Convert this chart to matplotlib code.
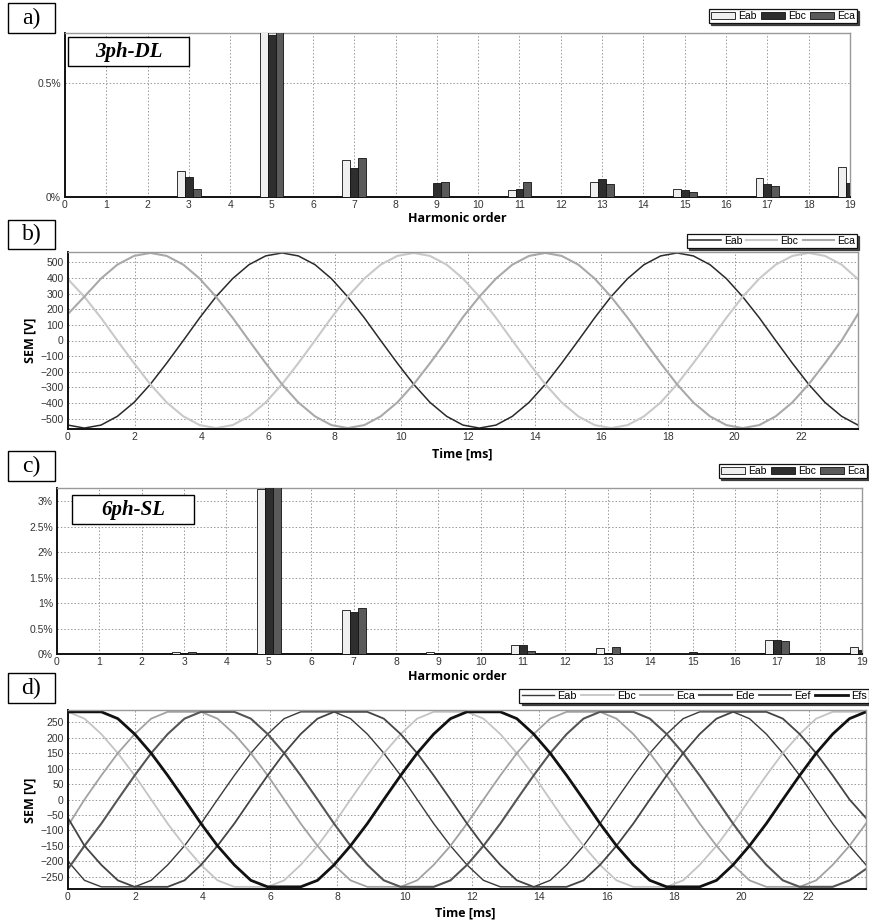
import matplotlib
matplotlib.use("Agg")
import matplotlib.pyplot as plt
from matplotlib.patches import Rectangle

plt.rcParams['font.family'] = ['Liberation Sans', 'DejaVu Sans']

W, H = 870, 923

# harmonic spectra, % of fundamental
orders = [3, 5, 7, 9, 11, 13, 15, 17, 19]
dl_eab = [0.115, 0.75, 0.163, 0.0, 0.031, 0.066, 0.037, 0.085, 0.132]
dl_ebc = [0.088, 0.712, 0.128, 0.061, 0.037, 0.079, 0.031, 0.055, 0.06]
dl_eca = [0.035, 0.76, 0.173, 0.066, 0.066, 0.056, 0.024, 0.047, 0.05]

sl_eab = [0.033, 3.25, 0.866, 0.03, 0.17, 0.11, 0.027, 0.275, 0.13]
sl_ebc = [0.013, 3.4, 0.83, 0.0, 0.17, 0.02, 0.047, 0.275, 0.08]
sl_eca = [0.046, 3.4, 0.90, 0.015, 0.05, 0.14, 0.02, 0.25, 0.05]

# back-EMF waveforms [V] vs time [ms]
time_ms = [0.00, 0.49, 0.99, 1.48, 1.98, 2.47, 2.96, 3.46, 3.95, 4.44, 4.94, 5.43,
           5.93, 6.42, 6.91, 7.41, 7.90, 8.39, 8.89, 9.38, 9.88, 10.37, 10.86, 11.36,
           11.85, 12.34, 12.84, 13.33, 13.83, 14.32, 14.81, 15.31, 15.80, 16.29, 16.79, 17.28,
           17.78, 18.27, 18.76, 19.26, 19.75, 20.24, 20.74, 21.23, 21.73, 22.22, 22.71, 23.21,
           23.70]

b_eab = [-541, -560, -541, -485, -396, -280, -145, 0, 145, 280, 396, 485,
         541, 560, 541, 485, 396, 280, 145, 0, -145, -280, -396, -485,
         -541, -560, -541, -485, -396, -280, -145, 0, 145, 280, 396, 485,
         541, 560, 541, 485, 396, 280, 145, 0, -145, -280, -396, -485,
         -541]
b_ebc = [392, 280, 145, 0, -145, -280, -396, -485, -541, -560, -541, -485,
         -396, -280, -145, 0, 145, 280, 396, 485, 541, 560, 541, 485,
         396, 280, 145, 0, -145, -280, -396, -485, -541, -560, -541, -485,
         -396, -280, -145, 0, 145, 280, 396, 485, 541, 560, 541, 485,
         392]
b_eca = [170, 280, 396, 485, 541, 560, 541, 485, 396, 280, 145, 0,
         -145, -280, -396, -485, -541, -560, -541, -485, -396, -280, -145, 0,
         150, 280, 396, 485, 541, 560, 541, 485, 396, 280, 145, 0,
         -145, -280, -396, -485, -541, -560, -541, -485, -396, -280, -145, 0,
         170]

d_eab = [-200, -262, -283, -283, -283, -262, -212, -150, -78, 0, 78, 150,
         212, 262, 284, 284, 284, 262, 212, 150, 78, 0, -78, -150,
         -212, -262, -283, -283, -283, -262, -212, -150, -78, 0, 78, 150,
         212, 262, 284, 284, 284, 262, 212, 150, 78, 0, -78, -150,
         -212]
d_ebc = [284, 262, 212, 150, 78, 0, -78, -150, -212, -262, -283, -283,
         -283, -262, -212, -150, -78, 0, 78, 150, 212, 262, 284, 284,
         284, 262, 212, 150, 78, 0, -78, -150, -212, -262, -283, -283,
         -283, -262, -212, -150, -78, 0, 78, 150, 212, 262, 284, 284,
         284]
d_eca = [-85, 0, 78, 150, 212, 262, 284, 284, 284, 262, 212, 150,
         78, 0, -78, -150, -212, -262, -283, -283, -283, -262, -212, -150,
         -78, 0, 78, 150, 212, 262, 284, 284, 284, 262, 212, 150,
         78, 0, -78, -150, -212, -262, -283, -283, -283, -262, -212, -150,
         -78]
d_ede = [-225, -150, -78, 0, 78, 150, 212, 262, 284, 284, 284, 262,
         212, 150, 78, 0, -78, -150, -212, -262, -283, -283, -283, -262,
         -212, -150, -78, 0, 78, 150, 212, 262, 284, 284, 284, 262,
         212, 150, 78, 0, -78, -150, -212, -262, -283, -283, -283, -262,
         -225]
d_eef = [-60, -150, -212, -262, -283, -283, -283, -262, -212, -150, -78, 0,
         78, 150, 212, 262, 284, 284, 284, 262, 212, 150, 78, 0,
         -78, -150, -212, -262, -283, -283, -283, -262, -212, -150, -78, 0,
         78, 150, 212, 262, 284, 284, 284, 262, 212, 150, 78, 0,
         -60]
d_efs = [284, 284, 284, 262, 212, 150, 78, 0, -78, -150, -212, -262,
         -283, -283, -283, -262, -212, -150, -78, 0, 78, 150, 212, 262,
         284, 284, 284, 262, 212, 150, 78, 0, -78, -150, -212, -262,
         -283, -283, -283, -262, -212, -150, -78, 0, 78, 150, 212, 262,
         284]

names3 = ['Eab', 'Ebc', 'Eca']
names6 = ['Eab', 'Ebc', 'Eca', 'Ede', 'Eef', 'Efs']
bar_colors = ['#efefef', '#2e2e2e', '#5a5a5a']
b_styles = [('#2a2a2a', 1.1), ('#c9c9c9', 1.5), ('#a9a9a9', 1.5)]
d_styles = [('#3a3a3a', 1.0), ('#c4c4c4', 1.3), ('#a2a2a2', 1.3),
            ('#555555', 1.5), ('#444444', 1.3), ('#111111', 2.0)]

fig = plt.figure(figsize=(W / 100, H / 100), dpi=100)


def px_rect(x0, y0, x1, y1):
    return [x0 / W, 1 - y1 / H, (x1 - x0) / W, (y1 - y0) / H]


def style(ax):
    ax.grid(True, color='#999999', linestyle=(0, (1.5, 2)), linewidth=0.7)
    ax.set_axisbelow(True)
    ax.tick_params(length=0, labelsize=7.5, labelcolor='#333333', pad=3)
    ax.tick_params(axis='x', pad=2)
    for s in ['top', 'right']:
        ax.spines[s].set_color('#999999')
        ax.spines[s].set_linewidth(1.0)
    for s in ['left', 'bottom']:
        ax.spines[s].set_color('#111111')
        ax.spines[s].set_linewidth(1.4)


def add_legend(ax, right, bottom, ncol, hl=2.3, fs=7.5):
    leg = ax.legend(loc='lower right', bbox_to_anchor=(right / W, 1 - bottom / H),
                    bbox_transform=fig.transFigure, ncol=ncol, fontsize=fs,
                    fancybox=False,
                    shadow={'color': '#333333', 'alpha': 0.9, 'ox': 1.5, 'oy': -1.5},
                    borderpad=0.2, handlelength=hl, handleheight=0.6,
                    handletextpad=0.3, columnspacing=0.4, borderaxespad=0)
    leg.get_frame().set_edgecolor('#111111')
    leg.get_frame().set_linewidth(0.9)


def boxed(x0, y0, x1, y1, text, **kw):
    fig.add_artist(Rectangle((x0 / W, 1 - y1 / H), (x1 - x0) / W, (y1 - y0) / H,
                             transform=fig.transFigure, fc='white', ec='black',
                             lw=1.0, zorder=5))
    fig.text((x0 + x1) / 2 / W, 1 - (y0 + y1) / 2 / H, text, ha='center',
             va='center', zorder=6, **kw)


def label(x, y, text, rot=0):
    fig.text(x / W, 1 - y / H, text, ha='center', va='center', rotation=rot,
             fontsize=9, fontweight='bold', family=['Open Sans', 'DejaVu Sans'])


def spectrum(ax, series, ymax, yticks):
    w = 0.19
    for i, vals in enumerate(series):
        ax.bar([h + (i - 1) * w for h in orders], vals, width=w, color=bar_colors[i],
               edgecolor='#111111', linewidth=0.6, label=names3[i], zorder=3)
    ax.set_xlim(0, 19)
    ax.set_ylim(0, ymax)
    ax.set_xticks(range(0, 20))
    ax.set_yticks(yticks, [f'{v:g}%' for v in yticks])
    style(ax)


def waves(ax, series, styles, names, ylim, yticks):
    for vals, (c, lw), n in zip(series, styles, names):
        ax.plot(time_ms, vals, color=c, lw=lw, label=n)
    ax.set_xlim(0, 23.7)
    ax.set_ylim(-ylim, ylim)
    ax.set_xticks(range(0, 24, 2))
    ax.set_yticks(yticks)
    style(ax)


# a) 3ph-DL spectrum
ax_a = fig.add_axes(px_rect(65, 33, 850, 197))
spectrum(ax_a, [dl_eab, dl_ebc, dl_eca], 0.72, [0, 0.5])
add_legend(ax_a, 857, 23, 3)
label(457, 219, 'Harmonic order')

# b) 3ph-DL waveforms
ax_b = fig.add_axes(px_rect(68, 252, 858, 429))
waves(ax_b, [b_eab, b_ebc, b_eca], b_styles, names3, 566, range(-500, 501, 100))
add_legend(ax_b, 857, 248, 3, hl=3.0)
label(462, 454, 'Time [ms]')
label(30, 340, 'SEM [V]', rot=90)

# c) 6ph-SL spectrum
ax_c = fig.add_axes(px_rect(57, 488, 862, 654))
spectrum(ax_c, [sl_eab, sl_ebc, sl_eca], 3.26, [0, 0.5, 1, 1.5, 2, 2.5, 3])
add_legend(ax_c, 867, 478, 3)
label(457, 676, 'Harmonic order')

# d) 6ph-SL waveforms
ax_d = fig.add_axes(px_rect(68, 710, 866, 889))
waves(ax_d, [d_eab, d_ebc, d_eca, d_ede, d_eef, d_efs], d_styles, names6, 290,
      range(-250, 251, 50))
add_legend(ax_d, 869, 703, 6, hl=3.0, fs=7.8)
label(465, 913, 'Time [ms]')
label(30, 800, 'SEM [V]', rot=90)

serif = ['Liberation Serif', 'DejaVu Serif']
boxed(8, 3, 55, 33, 'a)', fontsize=17, family=serif)
boxed(8, 220, 55, 249, 'b)', fontsize=17, family=serif)
boxed(8, 451, 55, 481, 'c)', fontsize=17, family=serif)
boxed(8, 673, 55, 703, 'd)', fontsize=17, family=serif)
boxed(68, 37, 189, 66, '3ph-DL', fontsize=15, family=serif, fontweight='bold', style='italic')
boxed(72, 495, 194, 524, '6ph-SL', fontsize=15, family=serif, fontweight='bold', style='italic')

fig.savefig('out.png', dpi=100)
